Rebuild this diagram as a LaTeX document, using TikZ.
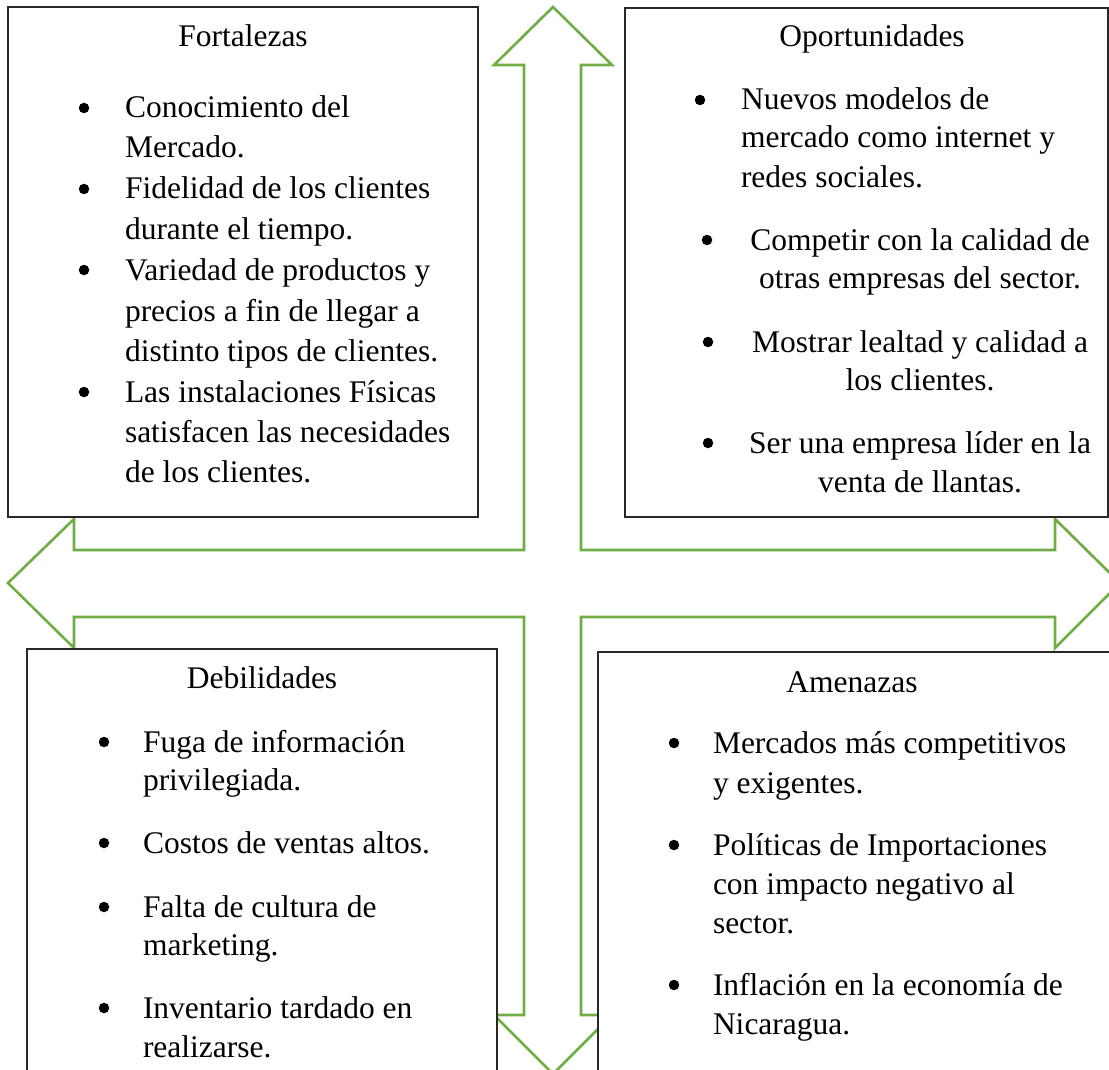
\documentclass[tikz,border=0pt]{standalone}
\usepackage{fontspec}
\setmainfont{Liberation Serif}
\definecolor{agreen}{RGB}{112,173,71}
\definecolor{boxline}{RGB}{40,40,40}
\begin{document}
\begin{tikzpicture}[x=1pt,y=-1pt,
  arrowline/.style={draw=agreen,line width=2.6pt,fill=white,line join=miter},
  swotbox/.style={draw=boxline,line width=1.2pt,fill=white,inner sep=0pt,outer sep=0pt,anchor=north west},
  txt/.style={inner sep=0pt,outer sep=0pt,font=\fontsize{31.5}{40}\selectfont},
  lft/.style={txt,anchor=base west},
  ctr/.style={txt,anchor=base},
  bul/.style={circle,fill=black,draw=none,inner sep=0pt,outer sep=0pt,minimum size=10.5pt}]
\useasboundingbox (0,0) rectangle (1109,1070);
\clip (0,0) rectangle (1109,1070);
% four-way arrow
\draw[arrowline] (553,7) -- (612,65) -- (581,65) -- (581,550) -- (1055,550) -- (1055,519)
  -- (1120,583) -- (1055,648) -- (1055,617) -- (581,617) -- (581,1015) -- (612,1015)
  -- (553,1074) -- (494,1015) -- (524,1015) -- (524,617) -- (74,617) -- (74,648)
  -- (8,583) -- (74,519) -- (74,550) -- (524,550) -- (524,65) -- (494,65) -- cycle;
% boxes
\node[swotbox,minimum width=470pt,minimum height=510pt] (F) at (8,7) {};
\node[swotbox,minimum width=483pt,minimum height=509pt] (O) at (625,8) {};
\node[swotbox,minimum width=470pt,minimum height=440pt] (D) at (27,649) {};
\node[swotbox,minimum width=530pt,minimum height=440pt] (A) at (598,652) {};
% Fortalezas
\node[ctr] (Ft) at (243,47) {Fortalezas};
\node[bul] (Fb1) at (84,108) {};
\node[bul] (Fb2) at (84,189) {};
\node[bul] (Fb3) at (84,270) {};
\node[bul] (Fb4) at (84,392) {};
\node[lft] (F1) at (125,118) {Conocimiento del};
\node[lft] (F2) at (125,158) {Mercado.};
\node[lft] (F3) at (125,199) {Fidelidad de los clientes};
\node[lft] (F4) at (125,239) {durante el tiempo.};
\node[lft] (F5) at (125,280) {Variedad de productos y};
\node[lft] (F6) at (125,321) {precios a fin de llegar a};
\node[lft] (F7) at (125,361) {distinto tipos de clientes.};
\node[lft] (F8) at (125,402) {Las instalaciones Físicas};
\node[lft] (F9) at (125,442) {satisfacen las necesidades};
\node[lft] (F10) at (125,482) {de los clientes.};
% Oportunidades
\node[ctr] (Ot) at (872,47) {Oportunidades};
\node[bul] (Ob1) at (700,100) {};
\node[bul] (Ob2) at (707,240) {};
\node[bul] (Ob3) at (708,342) {};
\node[bul] (Ob4) at (708,443) {};
\node[lft] (O1) at (741,110) {Nuevos modelos de};
\node[lft] (O2) at (741,148) {mercado como internet y};
\node[lft] (O3) at (741,187) {redes sociales.};
\node[ctr] (O4) at (920,250) {Competir con la calidad de};
\node[ctr] (O5) at (920,288) {otras empresas del sector.};
\node[ctr] (O6) at (920,352) {Mostrar lealtad y calidad a};
\node[ctr] (O7) at (920,390) {los clientes.};
\node[ctr] (O8) at (920,453) {Ser una empresa líder en la};
\node[ctr] (O9) at (920,492) {venta de llantas.};
% Debilidades
\node[ctr] (Dt) at (262,688) {Debilidades};
\node[bul] (Db1) at (104,742) {};
\node[bul] (Db2) at (104,843) {};
\node[bul] (Db3) at (104,907) {};
\node[bul] (Db4) at (104,1008) {};
\node[lft] (D1) at (143,752) {Fuga de información};
\node[lft] (D2) at (143,790) {privilegiada.};
\node[lft] (D3) at (143,853) {Costos de ventas altos.};
\node[lft] (D4) at (143,917) {Falta de cultura de};
\node[lft] (D5) at (143,955) {marketing.};
\node[lft] (D6) at (143,1018) {Inventario tardado en};
\node[lft] (D7) at (143,1057) {realizarse.};
% Amenazas
\node[ctr] (At) at (852,692) {Amenazas};
\node[bul] (Ab1) at (674,743) {};
\node[bul] (Ab2) at (674,845) {};
\node[bul] (Ab3) at (674,985) {};
\node[lft] (A1) at (713,753) {Mercados más competitivos};
\node[lft] (A2) at (713,793) {y exigentes.};
\node[lft] (A3) at (713,855) {Políticas de Importaciones};
\node[lft] (A4) at (713,894) {con impacto negativo al};
\node[lft] (A5) at (713,933) {sector.};
\node[lft] (A6) at (713,995) {Inflación en la economía de};
\node[lft] (A7) at (713,1034) {Nicaragua.};
\end{tikzpicture}
\end{document}
